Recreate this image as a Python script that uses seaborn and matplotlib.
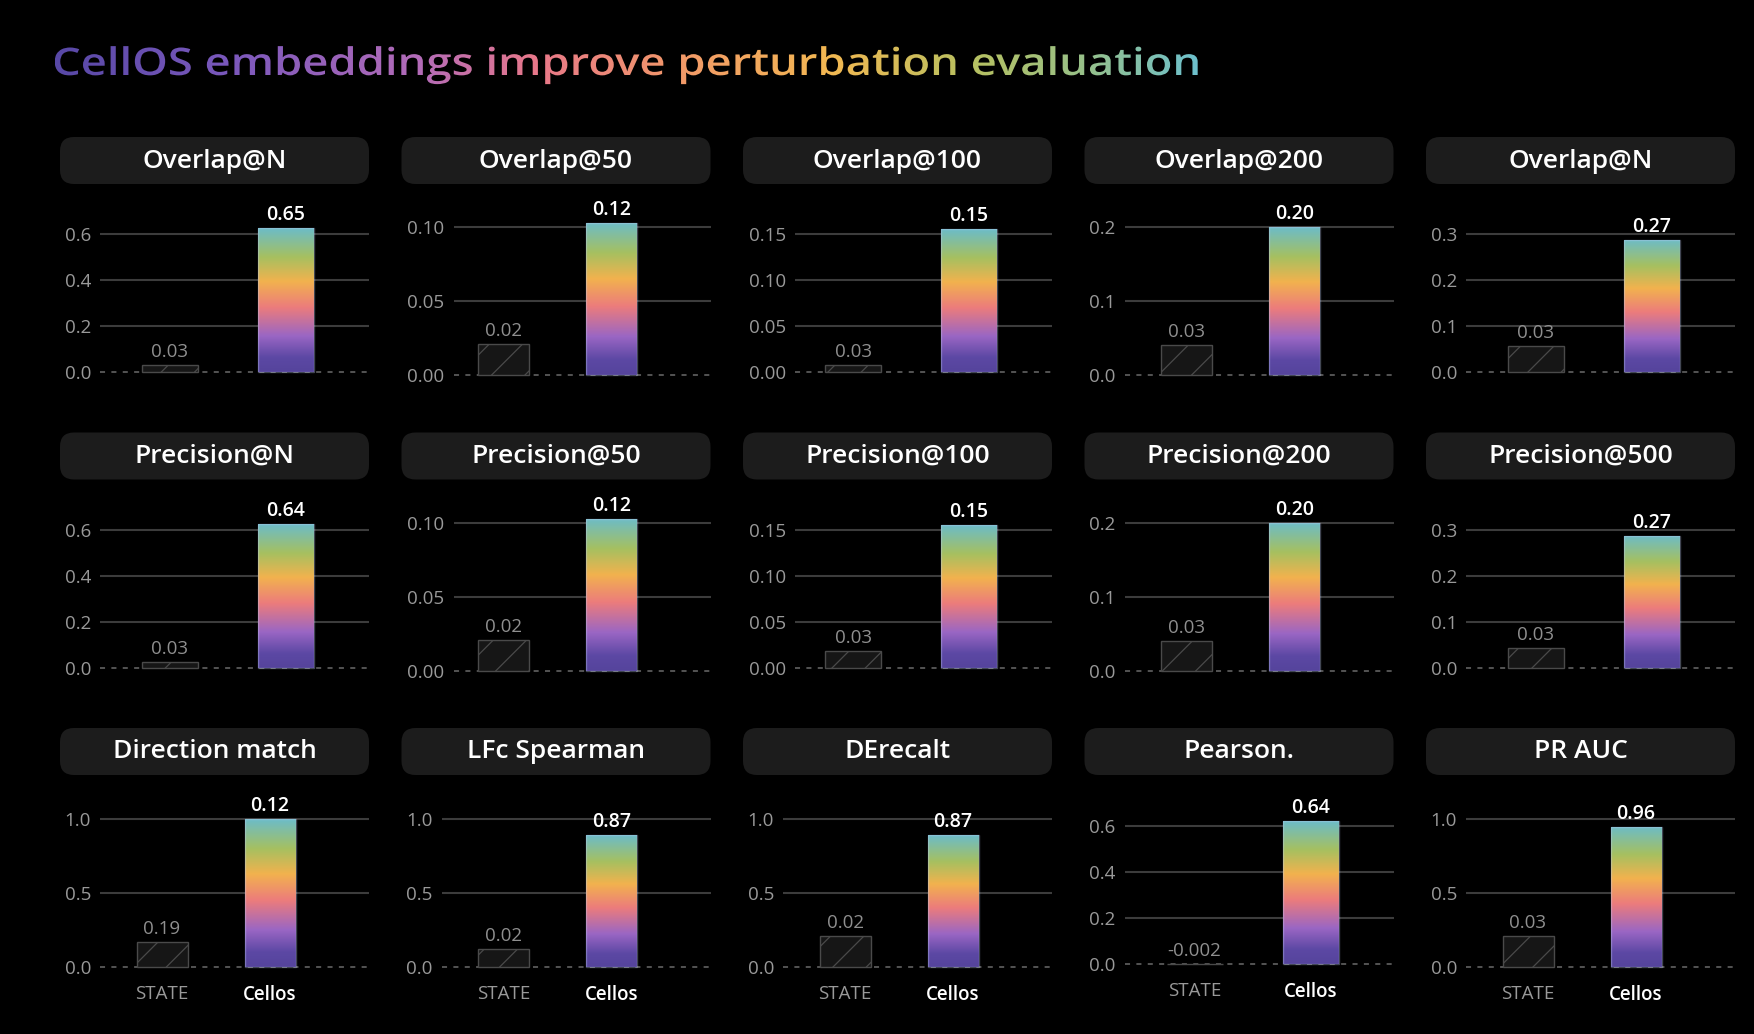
import numpy as np
import matplotlib
matplotlib.use("Agg")
import matplotlib.pyplot as plt
import seaborn as sns
from matplotlib.colors import LinearSegmentedColormap
from matplotlib.patches import FancyBboxPatch, PathPatch
from matplotlib.textpath import TextPath
from matplotlib.font_manager import FontProperties
from matplotlib.transforms import Affine2D

# ---- data ----
TITLE = "CellOS embeddings improve perturbation evaluation"
methods = ["STATE", "Cellos"]
metrics = [
    "Overlap@N", "Overlap@50", "Overlap@100", "Overlap@200", "Overlap@N",
    "Precision@N", "Precision@50", "Precision@100", "Precision@200", "Precision@500",
    "Direction match", "LFc Spearman", "DErecalt", "Pearson.", "PR AUC",
]
state_vals = [0.03, 0.021, 0.0075, 0.041, 0.057,
              0.025, 0.021, 0.019, 0.041, 0.044,
              0.17, 0.12, 0.21, -0.002, 0.21]
cellos_vals = [0.626, 0.103, 0.155, 0.20, 0.287,
               0.626, 0.103, 0.155, 0.20, 0.287,
               1.0, 0.89, 0.89, 0.62, 0.946]
state_labels = ["0.03", "0.02", "0.03", "0.03", "0.03",
                "0.03", "0.02", "0.03", "0.03", "0.03",
                "0.19", "0.02", "0.02", "-0.002", "0.03"]
cellos_labels = ["0.65", "0.12", "0.15", "0.20", "0.27",
                 "0.64", "0.12", "0.15", "0.20", "0.27",
                 "0.12", "0.87", "0.87", "0.64", "0.96"]
y_ticks = [
    [0, 0.2, 0.4, 0.6], [0, 0.05, 0.10], [0, 0.05, 0.10, 0.15], [0, 0.1, 0.2], [0, 0.1, 0.2, 0.3],
    [0, 0.2, 0.4, 0.6], [0, 0.05, 0.10], [0, 0.05, 0.10, 0.15], [0, 0.1, 0.2], [0, 0.1, 0.2, 0.3],
    [0, 0.5, 1.0], [0, 0.5, 1.0], [0, 0.5, 1.0], [0, 0.2, 0.4, 0.6], [0, 0.5, 1.0],
]
tick_decimals = [1, 2, 2, 1, 1, 1, 2, 2, 1, 1, 1, 1, 1, 1, 1]

rainbow = ["#55449c", "#5c48a4", "#9a66c4", "#ec7c7c", "#f2b24e", "#a6c060", "#6cbcc8"]
rainbow_pos = [0.0, 0.1, 0.25, 0.45, 0.63, 0.8, 1.0]
title_cols = ["#5848a6", "#7a58bc", "#b46cb8", "#e8788a", "#f29a68", "#f2b852", "#b8c060", "#98c088", "#6ec0cc"]
title_pos = [0.0, 0.15, 0.32, 0.42, 0.55, 0.68, 0.8, 0.9, 1.0]

FONT = "Open Sans"
sns.set_theme(style="dark")
plt.rcParams["font.family"] = [FONT, "DejaVu Sans"]
plt.rcParams["hatch.color"] = "#4a4a4a"
plt.rcParams["hatch.linewidth"] = 0.9

bar_cmap = LinearSegmentedColormap.from_list("bars", list(zip(rainbow_pos, rainbow)))
title_cmap = LinearSegmentedColormap.from_list("title", list(zip(title_pos, title_cols)))

W, H = 1754, 1034
fig = plt.figure(figsize=(W / 100, H / 100), dpi=100, facecolor="black")

# background layer in pixel coords (y downwards)
bg = fig.add_axes([0, 0, 1, 1])
bg.set_xlim(0, W)
bg.set_ylim(H, 0)
bg.axis("off")

# gradient title, stretched to the reference's width
tp = TextPath((0, 0), TITLE, size=38, prop=FontProperties(family=FONT, weight="semibold"))
tw = tp.get_extents().width
tpath = Affine2D().scale(1143 / tw, -1).translate(52, 75).transform_path(tp)
tpatch = PathPatch(tpath, facecolor="none", edgecolor="none", transform=bg.transData)
bg.add_patch(tpatch)
ext = tpath.get_extents()
grad = np.linspace(0, 1, 512).reshape(1, -1)
im = bg.imshow(grad, cmap=title_cmap, extent=(ext.x0, ext.x1, ext.y1 + 2, ext.y0 - 2), aspect="auto")
im.set_clip_path(tpatch)
bg.set_xlim(0, W)
bg.set_ylim(H, 0)

for i, name in enumerate(metrics):
    r, c = divmod(i, 5)
    box_l = 60 + c * 341.5
    box_t = 137 + r * 295.5
    box_w = 309

    bg.add_patch(FancyBboxPatch((box_l, box_t), box_w, 47,
                                boxstyle="round,pad=0,rounding_size=14",
                                facecolor="#1c1c1c", edgecolor="none"))
    bg.text(box_l + box_w / 2, box_t + 24, name, ha="center", va="center",
            color="white", fontsize=19, fontweight="semibold")

    ticks = y_ticks[i]
    wide = len(ticks) == 4
    y0 = 372 + r * 296 + (0 if wide else 3)
    span = 138 if wide else 148
    s = span / ticks[-1]
    left = box_l + (52 if tick_decimals[i] == 2 else 40)
    right = box_l + box_w
    top, bottom = y0 - 175, y0 + 8
    c0, c1 = (box_l + 110, box_l + 226) if wide else (box_l + 102, box_l + 210)
    bw_px = 56 if wide else 51
    unit = c1 - c0

    ax = fig.add_axes([left / W, 1 - bottom / H, (right - left) / W, (bottom - top) / H])
    ax.set_facecolor("black")

    sns.barplot(x=methods, y=[state_vals[i], cellos_vals[i]], ax=ax,
                width=bw_px / unit, color="#161616", saturation=1,
                edgecolor="#4a4a4a", linewidth=1.0, zorder=2)
    bars = sorted(ax.patches, key=lambda p: p.get_x())
    bars[0].set_hatch("/")
    cb = bars[1]
    cb.set_facecolor("none")
    cb.set_edgecolor((0.75, 0.8, 0.95, 0.35))
    x0, wb, hb = cb.get_x(), cb.get_width(), cb.get_height()
    gim = ax.imshow(np.linspace(0, 1, 256).reshape(-1, 1), cmap=bar_cmap, origin="lower",
                    extent=(x0, x0 + wb, 0, hb), aspect="auto", zorder=1.9)
    gim.set_clip_path(cb)

    for t in ticks:
        if t == 0:
            ax.axhline(0, color="#5a5a5a", lw=1.3, ls=(0, (2.8, 3.5)), zorder=1)
        else:
            ax.axhline(t, color="#3c3c3c", lw=1.5, zorder=1)

    ax.annotate(state_labels[i], xy=(0, max(state_vals[i], 0)), xytext=(0, 8),
                textcoords="offset pixels", ha="center", va="baseline",
                color="#8f8f8f", fontsize=13.5, annotation_clip=False)
    ax.annotate(cellos_labels[i], xy=(1, cellos_vals[i]), xytext=(0, 8),
                textcoords="offset pixels", ha="center", va="baseline",
                color="white", fontsize=14, fontweight="semibold", annotation_clip=False)

    ax.set_yticks(ticks)
    ax.set_yticklabels([f"{t:.{tick_decimals[i]}f}" for t in ticks])
    ax.set_xlim(-(c0 - left) / unit, (right - c0) / unit)
    ax.set_ylim(-8 / s, 175 / s)
    ax.tick_params(axis="y", length=0, pad=6.5, labelsize=13.5, labelcolor="#999999")
    ax.tick_params(axis="x", length=0, pad=7, labelsize=13.5)
    ax.set_xlabel("")
    ax.set_ylabel("")
    ax.grid(False)
    for sp in ax.spines.values():
        sp.set_visible(False)
    if r == 2:
        ax.set_xticks([0, 1])
        ax.set_xticklabels(methods)
        lbls = ax.get_xticklabels()
        lbls[0].set_color("#999999")
        lbls[1].set_color("white")
        lbls[1].set_fontweight("semibold")
    else:
        ax.tick_params(axis="x", labelbottom=False)

fig.savefig("out.png", dpi=100, facecolor="black")
